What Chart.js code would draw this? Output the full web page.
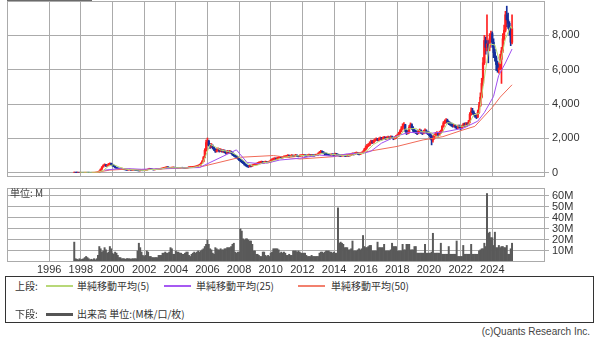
<!DOCTYPE html>
<html>
<head>
<meta charset="utf-8">
<script src="https://cdn.jsdelivr.net/npm/chart.js@4/dist/chart.umd.min.js"></script>
<style>
  body { margin: 0; background: #fff; width: 600px; height: 344px; overflow: hidden; position: relative;
         font-family: "Noto Sans CJK JP", "Liberation Sans", sans-serif; color: #333; }
  canvas { position: absolute; left: 0; }
  #price { top: 0; }
  #vol { top: 186px; }
  #topbar { position: absolute; left: 7px; top: 0; width: 85px; height: 2px; background: #6a6a6a; }
  #unit { position: absolute; left: 10px; top: 185px; font-size: 10px; color: #444; }
  #legend { position: absolute; left: 5px; top: 276px; width: 589px; height: 47px; box-sizing: border-box;
            border: 1px solid #333; font-size: 10px; }
  #legend span { position: absolute; white-space: nowrap; line-height: 12px; }
  #legend i { position: absolute; width: 27px; height: 2px; }
  #copy { position: absolute; right: 10px; top: 326px; font: 10px "Liberation Sans", sans-serif; color: #444; }
</style>
</head>
<body>
<div id="topbar"></div>
<canvas id="price" width="600" height="178"></canvas>
<canvas id="vol" width="600" height="90"></canvas>
<div id="unit">単位: M</div>
<div id="legend">
  <span style="left:9px;top:3px">上段:</span>
  <i style="left:40px;top:8px;background:#b8d878"></i>
  <span style="left:71px;top:3px">単純移動平均(5)</span>
  <i style="left:158px;top:8px;background:#a659f2"></i>
  <span style="left:190px;top:3px">単純移動平均(25)</span>
  <i style="left:292px;top:8px;background:#f2806e"></i>
  <span style="left:325px;top:3px">単純移動平均(50)</span>
  <span style="left:9px;top:31px">下段:</span>
  <i style="left:40px;top:36px;height:3px;background:#555"></i>
  <span style="left:71px;top:31px">出来高 単位:(M株/口/枚)</span>
</div>
<div id="copy">(c)Quants Research Inc.</div>
<script>
// monthly bars, Aug 1997 .. Apr 2025
const startYear = 1997, startMonth = 8;

const close = [
  30, 28, 26, 27, 26,
  26, 25, 24, 25, 27, 26, 25, 24, 23, 25, 26, 28,
  35, 40, 90, 200, 330, 420, 470, 390, 430, 500, 540, 480,
  420, 380, 300, 260, 250, 230, 220, 240, 210, 190, 170, 160,
  170, 180, 150, 160, 175, 160, 140, 120, 110, 130, 125, 120,
  130, 150, 180, 200, 230, 210, 190, 170, 180, 200, 190, 210,
  230, 240, 260, 280, 300, 330, 310, 280, 290, 300, 310, 290,
  280, 270, 260, 280, 300, 290, 270, 260, 280, 300, 320, 330,
  330, 340, 350, 370, 390, 420, 450, 540, 650, 880, 1300, 1750,
  1850, 1600, 1500, 1550, 1450, 1350, 1250, 1300, 1350, 1250, 1300, 1250,
  1250, 1200, 1150, 1220, 1180, 1200, 1150, 1050, 1000, 950, 900, 820,
  750, 700, 620, 560, 480, 420, 380, 350, 400, 380, 420, 450,
  480, 500, 550, 580, 600, 620, 580, 600, 620, 600, 610, 640,
  700, 760, 800, 820, 780, 850, 880, 900, 870, 900, 920, 950,
  960, 1000, 950, 980, 1000, 970, 990, 1010, 980, 960, 990, 1000,
  1010, 1020, 1000, 990, 1010, 1030, 1000, 1020, 1010, 1000, 1030, 1040,
  1100, 1180, 1230, 1200, 1150, 1100, 1080, 1060, 1050, 1040, 1060, 1050,
  1040, 1080, 1060, 1020, 990, 980, 1000, 1010, 990, 970, 1000, 990,
  1020, 1050, 1100, 1080, 1120, 1150, 1100, 1080, 1120, 1150, 1200, 1350,
  1450, 1550, 1600, 1700, 1800, 1750, 1850, 1900, 1950, 1900, 1950, 2000,
  1950, 2000, 2050, 1980, 2020, 2050, 2000, 2080, 2050, 1980, 2020, 2100,
  2150, 2250, 2400, 2550, 2700, 2800, 2450, 2300, 2350, 2650, 2800, 2600,
  2450, 2400, 2350, 2300, 2400, 2450, 2350, 2300, 2400, 2450, 2350, 2300,
  2250, 2100, 1900, 2000, 2150, 2250, 2300, 2200, 2350, 2400, 2700, 2900,
  3000, 3050, 2950, 2850, 2800, 2750, 2700, 2750, 2650, 2600, 2700, 2650,
  2600, 2700, 2800, 2750, 2850, 2800, 2950, 3400, 3600, 3500, 3400, 3300,
  3250, 3500, 3900, 4400, 5200, 6400, 7700, 7300, 7500, 7300, 7800, 8100,
  7600, 7000, 6700, 6300, 6000, 6100, 6600, 7100, 7800, 8300, 9200, 8900,
  8700, 8300, 7600, 8400
];

const high = [
  35, 32, 30, 30, 29,
  29, 28, 27, 27, 29, 29, 28, 27, 26, 27, 28, 31,
  40, 48, 110, 230, 360, 460, 520, 480, 470, 540, 580, 560,
  500, 440, 400, 320, 290, 270, 250, 270, 260, 230, 210, 190,
  190, 210, 200, 180, 200, 190, 170, 150, 140, 150, 150, 140,
  150, 170, 200, 230, 260, 250, 220, 200, 200, 220, 220, 230,
  250, 270, 290, 310, 330, 360, 350, 320, 320, 330, 340, 330,
  310, 300, 290, 300, 320, 320, 300, 290, 300, 320, 350, 360,
  360, 370, 380, 400, 420, 450, 490, 580, 700, 950, 1400, 1900,
  2020, 1900, 1700, 1700, 1620, 1500, 1400, 1400, 1450, 1400, 1400, 1350,
  1350, 1330, 1260, 1300, 1280, 1300, 1260, 1200, 1100, 1060, 1000, 950,
  870, 800, 750, 680, 600, 520, 460, 420, 450, 450, 470, 500,
  530, 560, 600, 640, 660, 680, 660, 650, 680, 660, 660, 690,
  760, 820, 860, 880, 860, 900, 940, 960, 930, 950, 980, 1000,
  1020, 1060, 1030, 1030, 1060, 1030, 1040, 1070, 1040, 1010, 1040, 1060,
  1060, 1070, 1060, 1040, 1060, 1080, 1060, 1070, 1060, 1050, 1080, 1090,
  1160, 1240, 1300, 1280, 1230, 1180, 1140, 1110, 1100, 1090, 1110, 1110,
  1100, 1140, 1130, 1090, 1050, 1040, 1060, 1070, 1050, 1030, 1060, 1050,
  1080, 1110, 1160, 1150, 1180, 1210, 1180, 1150, 1180, 1210, 1270, 1420,
  1560, 1650, 1700, 1800, 1900, 1880, 1920, 1980, 2030, 2000, 2030, 2080,
  2060, 2080, 2120, 2090, 2100, 2130, 2100, 2150, 2140, 2080, 2100, 2180,
  2250, 2350, 2500, 2680, 2850, 2920, 2820, 2500, 2450, 2750, 2900, 2850,
  2680, 2520, 2480, 2420, 2480, 2550, 2500, 2420, 2480, 2550, 2500, 2400,
  2380, 2300, 2200, 2150, 2250, 2350, 2400, 2350, 2420, 2480, 2750, 2980,
  3080, 3150, 3120, 3000, 2950, 2900, 2850, 2820, 2800, 2720, 2780, 2780,
  2720, 2780, 2880, 2900, 2920, 2920, 3050, 3500, 3780, 3750, 3600, 3450,
  3400, 3650, 4100, 4650, 5500, 6700, 8000, 7900, 9200, 7700, 8100, 8250,
  8200, 7800, 7200, 6800, 6500, 6400, 6900, 7300, 8100, 8600, 9400, 9700,
  9300, 8800, 8500, 9200
];

const low = [
  25, 24, 22, 23, 23,
  23, 22, 21, 22, 23, 23, 22, 21, 20, 21, 23, 25,
  28, 32, 40, 90, 200, 330, 400, 360, 380, 420, 480, 440,
  380, 340, 280, 240, 220, 210, 200, 210, 190, 170, 150, 140,
  150, 160, 140, 140, 150, 150, 130, 110, 100, 105, 115, 110,
  115, 125, 145, 170, 200, 190, 170, 155, 160, 175, 180, 185,
  205, 220, 235, 255, 275, 290, 290, 265, 270, 280, 285, 275,
  260, 250, 240, 250, 275, 270, 250, 240, 250, 275, 295, 310,
  310, 320, 330, 340, 360, 380, 410, 440, 520, 630, 860, 1250,
  1600, 1550, 1420, 1450, 1380, 1280, 1180, 1200, 1260, 1200, 1220, 1200,
  1180, 1150, 1080, 1120, 1120, 1130, 1100, 1000, 950, 900, 850, 780,
  700, 640, 580, 520, 440, 380, 330, 300, 330, 340, 370, 410,
  440, 460, 490, 530, 560, 570, 540, 560, 580, 570, 570, 600,
  630, 690, 740, 770, 740, 760, 830, 850, 830, 850, 880, 900,
  920, 940, 900, 930, 950, 930, 940, 970, 940, 920, 940, 960,
  970, 980, 960, 950, 960, 990, 960, 980, 970, 960, 990, 1000,
  1020, 1090, 1160, 1140, 1100, 1050, 1030, 1020, 1010, 1000, 1020, 1010,
  990, 1020, 1020, 980, 950, 940, 960, 970, 950, 930, 950, 950,
  970, 1000, 1040, 1030, 1060, 1100, 1060, 1040, 1060, 1100, 1140, 1180,
  1330, 1420, 1520, 1580, 1680, 1700, 1720, 1820, 1880, 1850, 1870, 1920,
  1900, 1920, 1980, 1930, 1950, 1990, 1950, 1980, 2000, 1920, 1950, 2000,
  2080, 2120, 2220, 2380, 2520, 2650, 2380, 2220, 2260, 2300, 2600, 2520,
  2380, 2320, 2280, 2220, 2260, 2360, 2280, 2220, 2260, 2360, 2280, 2220,
  2150, 1950, 1620, 1780, 1950, 2100, 2200, 2120, 2180, 2300, 2380, 2650,
  2850, 2900, 2880, 2800, 2750, 2700, 2650, 2660, 2600, 2540, 2580, 2600,
  2480, 2550, 2650, 2680, 2700, 2720, 2780, 2900, 3350, 3400, 3300, 3220,
  3150, 3200, 3450, 3850, 4350, 5100, 6300, 6900, 7100, 6400, 7100, 7600,
  7300, 6700, 6500, 5950, 5850, 5800, 6000, 5200, 7000, 7700, 8200, 8500,
  8400, 8000, 7400, 7500
];

// volume, millions
const volume = [
  18, 3, 2.5, 2, 3,
  2, 2.5, 3, 4, 5, 4, 3, 2, 2.5, 2, 3, 2,
  3, 6, 14, 12, 9, 10, 13, 11, 8, 9, 14, 12,
  8, 7, 9, 8, 6, 4, 4, 3, 3, 3, 2.5, 3,
  3, 3, 2.5, 3, 3, 3, 3, 10, 17, 13, 9, 6,
  5, 6, 10, 9, 5, 5, 4, 4, 4, 4, 4, 6,
  6, 6, 8, 8, 9, 8, 8, 9, 13, 12, 7, 7,
  10, 9, 9, 8, 8, 7, 7, 8, 9, 9, 6, 5,
  7, 8, 9, 8, 9, 10, 9, 10, 11, 12, 14, 16,
  20, 16, 12, 11, 8, 7, 13, 12, 11, 11, 12, 11,
  11, 12, 12, 13, 13, 13, 14, 16, 17, 9, 8, 9,
  9, 30, 28, 21, 20, 21, 21, 20, 19, 19, 16, 10,
  10, 7, 7, 6, 5, 5, 9, 9, 6, 5, 6, 5,
  8, 9, 12, 12, 12, 12, 11, 8, 9, 8, 9, 8,
  6, 6, 7, 6, 6, 10, 10, 10, 9, 10, 9, 8,
  8, 8, 8, 6, 5, 5, 5, 6, 5, 5, 5, 5,
  5, 8, 9, 9, 8, 9, 10, 10, 10, 9, 9, 8,
  9, 8, 8, 49, 17, 18, 17, 16, 13, 13, 13, 11,
  11, 12, 19, 10, 10, 10, 11, 12, 11, 12, 24, 14,
  13, 13, 14, 15, 15, 10, 10, 10, 10, 18, 13, 13,
  13, 13, 16, 10, 10, 10, 10, 11, 17, 14, 14, 14,
  10, 10, 10, 10, 16, 11, 11, 16, 16, 16, 11, 11,
  11, 14, 14, 8, 8, 8, 8, 8, 8, 16, 8, 8,
  8, 8, 9, 26, 8, 8, 8, 8, 8, 17, 7, 7,
  7, 7, 7, 14, 7, 7, 7, 7, 7, 19, 5, 5,
  5, 5, 15, 7, 7, 7, 7, 7, 16, 7, 7, 7,
  7, 7, 10, 11, 12, 12, 17, 14, 62, 26, 27, 22,
  22, 15, 27, 13, 13, 15, 13, 14, 14, 13, 13, 15,
  7, 7, 12, 17
];

// moving averages: [year, value]
const ma5 = [
  [1997.92, 28], [1998.5, 25], [1999.08, 28], [1999.42, 130], [1999.75, 380], [2000.08, 470],
  [2000.42, 330], [2000.75, 230], [2001.08, 180], [2001.42, 165], [2001.75, 140], [2002.08, 130],
  [2002.42, 190], [2002.75, 190], [2003.08, 220], [2003.42, 290], [2003.75, 290], [2004.08, 290],
  [2004.42, 280], [2004.75, 280], [2005.08, 300], [2005.42, 380], [2005.67, 500], [2005.92, 1050],
  [2006.17, 1650], [2006.5, 1500], [2006.83, 1320], [2007.17, 1260], [2007.5, 1190], [2007.83, 1030],
  [2008.17, 780], [2008.5, 560], [2008.83, 400], [2009.17, 440], [2009.5, 580], [2009.83, 610],
  [2010.17, 700], [2010.5, 800], [2010.83, 880], [2011.17, 950], [2011.5, 980], [2011.83, 990],
  [2012.17, 1010], [2012.5, 1010], [2012.83, 1010], [2013.17, 1110], [2013.5, 1170], [2013.83, 1060],
  [2014.17, 1050], [2014.5, 1010], [2014.83, 990], [2015.17, 1030], [2015.5, 1110], [2015.83, 1120],
  [2016.17, 1350], [2016.5, 1650], [2016.83, 1820], [2017.17, 1950], [2017.5, 2020], [2017.83, 2030],
  [2018.17, 2180], [2018.5, 2540], [2018.83, 2560], [2019.17, 2580], [2019.5, 2390], [2019.83, 2370],
  [2020.17, 2320], [2020.5, 2050], [2020.83, 2310], [2021.17, 2920], [2021.5, 2880], [2021.83, 2720],
  [2022.17, 2700], [2022.5, 2790], [2022.83, 3370], [2023.17, 3450], [2023.5, 5500], [2023.83, 7500],
  [2024.17, 7440], [2024.5, 6340], [2024.83, 7800], [2025.17, 8540], [2025.25, 8380]
];
const ma25 = [
  [1999.5, 150], [2000.58, 250], [2001.83, 200], [2003.08, 230], [2004.33, 280], [2005.5, 300],
  [2007.83, 1330], [2008.5, 600], [2009.33, 520], [2010.0, 610], [2010.58, 740], [2011.83, 840],
  [2013.08, 1030], [2014.0, 950], [2014.83, 1100], [2015.83, 1130], [2016.33, 1250], [2017.0, 1720],
  [2018.0, 2150], [2018.75, 2350], [2020.17, 2300], [2021.0, 2380], [2022.17, 2590], [2023.08, 3000],
  [2023.5, 3500], [2024.08, 4440], [2024.4, 5650], [2024.83, 6390], [2025.25, 7200]
];
const ma50 = [
  [1999.08, 40], [1999.83, 150], [2000.79, 200], [2002.06, 180], [2003.32, 230], [2004.27, 260],
  [2005.53, 330], [2008.08, 900], [2010.17, 1000], [2011.22, 870], [2011.83, 800], [2013.92, 930],
  [2016.08, 1230], [2017.98, 1530], [2019.63, 1910], [2020.88, 2100], [2022.15, 2490], [2022.9, 2700],
  [2023.5, 3300], [2024.0, 3800], [2024.5, 4400], [2025.25, 5120]
];

const yearTicks = [1996, 1998, 2000, 2002, 2004, 2006, 2008, 2010, 2012, 2014, 2016, 2018, 2020, 2022, 2024];
const priceTicks = [0, 2000, 4000, 6000, 8000];
const volTicks = [10, 20, 30, 40, 50, 60];

const UP = '#ff2020', DOWN = '#16309c', GRID = '#ababab';
const xMin = 1993.333, xMax = 2027.333;

const xs = close.map((_, i) => startYear + (startMonth - 1 + i) / 12);
const open = close.map((c, i) => i ? close[i - 1] : c);
const colors = close.map((c, i) => c >= open[i] ? UP : DOWN);

Chart.defaults.font.family = '"Liberation Sans", sans-serif';
Chart.defaults.font.size = 11;
Chart.defaults.color = '#333';

const frame = {
  id: 'frame',
  afterDraw(chart) {
    const a = chart.chartArea, g = chart.ctx;
    g.save();
    g.strokeStyle = GRID;
    g.lineWidth = 1;
    const l = Math.round(a.left) + 0.5, t = Math.round(a.top) + 0.5;
    g.strokeRect(l, t, Math.round(a.right) - 0.5 - l, Math.round(a.bottom) - 0.5 - t);
    g.restore();
  }
};

// keep the plot box fixed: no extra room for labels hanging over the edges
function fixBox(s, w, h) {
  if (w !== undefined) s.width = w;
  if (h !== undefined) s.height = h;
  s.paddingTop = 0; s.paddingBottom = 0; s.paddingLeft = 0; s.paddingRight = 0;
}

function xScale(showLabels) {
  return {
    type: 'linear', min: xMin, max: xMax, offset: false,
    afterBuildTicks: s => { s.ticks = yearTicks.map(v => ({ value: v })); },
    afterFit: s => fixBox(s, undefined, showLabels ? 14 : 0),
    ticks: { display: showLabels, padding: 1, maxRotation: 0, autoSkip: false, callback: v => String(v) },
    grid: { color: GRID, drawTicks: false, offset: false },
    border: { display: false }
  };
}

function yScale(min, max, ticks, fmt) {
  return {
    position: 'right', min, max,
    afterBuildTicks: s => { s.ticks = ticks.map(v => ({ value: v })); },
    afterFit: s => fixBox(s, 55),
    ticks: { padding: 3, autoSkip: false, callback: fmt },
    grid: { color: GRID, tickLength: 4 },
    border: { display: false }
  };
}

function maLine(points, color) {
  return {
    type: 'line', data: points.map(([x, y]) => ({ x, y })),
    borderColor: color, borderWidth: 1, pointRadius: 0, tension: 0, order: 0
  };
}

new Chart(document.getElementById('price'), {
  type: 'bar',
  data: {
    datasets: [
      maLine(ma5, '#b8d878'),
      maLine(ma25, '#a04ff0'),
      maLine(ma50, '#f06a58'),
      {
        data: xs.map((x, i) => ({ x, y: [low[i], high[i]] })),
        backgroundColor: colors, barThickness: 1, grouped: false, order: 2
      },
      {
        data: xs.map((x, i) => ({ x, y: [open[i], close[i]] })),
        backgroundColor: colors, barThickness: 1.6, grouped: false, order: 1
      }
    ]
  },
  options: {
    responsive: false, animation: false,
    layout: { padding: { left: 7, top: 1, bottom: 1, right: 0 } },
    plugins: { legend: { display: false }, tooltip: { enabled: false } },
    scales: {
      x: xScale(false),
      y: yScale(-250, 10000, priceTicks, v => v.toLocaleString('en-US'))
    }
  },
  plugins: [frame]
});

new Chart(document.getElementById('vol'), {
  type: 'bar',
  data: {
    datasets: [{
      data: xs.map((x, i) => ({ x, y: volume[i] })),
      backgroundColor: '#5a5a5a', barPercentage: 1, categoryPercentage: 1
    }]
  },
  options: {
    responsive: false, animation: false,
    layout: { padding: { left: 7, top: 2, bottom: 0, right: 0 } },
    plugins: { legend: { display: false }, tooltip: { enabled: false } },
    scales: {
      x: xScale(true),
      y: yScale(0, 67, volTicks, v => v + 'M')
    }
  },
  plugins: [frame]
});
</script>
</body>
</html>
